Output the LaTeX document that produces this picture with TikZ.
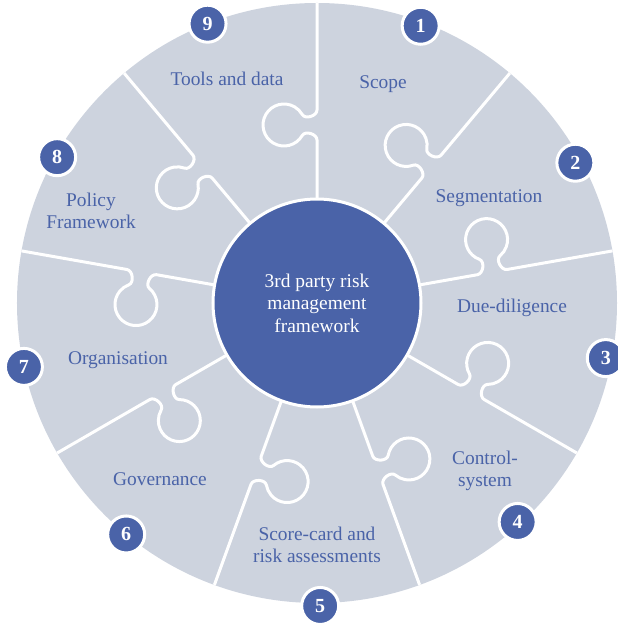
\documentclass[tikz,border=0pt]{standalone}
\usepackage{fontspec}
\setmainfont{Liberation Serif}
\definecolor{discgray}{HTML}{CDD3DE}
\definecolor{hubblue}{HTML}{4A63A8}
\begin{document}
\begin{tikzpicture}[x=0.5pt,y=0.5pt,
  seam/.style={draw=white,line width=1.5pt},
  hub/.style={circle,fill=hubblue,draw=white,line width=1.5pt,minimum size=104pt,inner sep=0pt,text=white,align=center,font=\fontsize{9.7}{11.25}\selectfont},
  badge/.style={circle,fill=hubblue,draw=white,line width=1.5pt,minimum size=18.5pt,inner sep=0pt,text=white,font=\fontsize{10}{11}\selectfont\bfseries},
  piece/.style={text=hubblue,align=center,font=\fontsize{9.7}{11.25}\selectfont}]
\useasboundingbox (-317,-323) rectangle (300,303);
\fill[discgray] (0,0) circle (300);
% seams between the pieces
\foreach \a in {90,50,...,-230}
  \draw[seam,rotate=\a] (104,0) -- (163,0) .. controls (169,0) and (172.7,11.8) .. (167.5,14.8)
    arc[start angle=240,end angle=-60,radius=21]
    .. controls (183.3,11.8) and (187,0) .. (193,0) -- (300,0);
\node[hub] (hub) at (0,0) {3rd party risk\\management\\framework};
\node[piece] (scope) at (66,219) {Scope};
\node[piece] (segm) at (172,105) {Segmentation};
\node[piece] (due) at (195,-5) {Due-diligence};
\node[piece] (ctrl) at (168,-168) {Control-\\system};
\node[piece] (score) at (0,-242) {Score-card and\\risk assessments};
\node[piece] (gov) at (-157,-176) {Governance};
\node[piece] (org) at (-199,-57) {Organisation};
\node[piece] (policy) at (-226,92) {Policy\\Framework};
\node[piece] (tools) at (-90,224) {Tools and data};
% numbered badges
\foreach \n/\a/\r in {1/69.5/296,2/28.5/294,3/-10.8/294,4/-47.5/297,5/-89.4/303,6/-129.5/300,7/-167.7/300,8/150.7/298,9/111.4/300}
  \node[badge] (b\n) at (\a:\r) {\n};
\end{tikzpicture}
\end{document}
